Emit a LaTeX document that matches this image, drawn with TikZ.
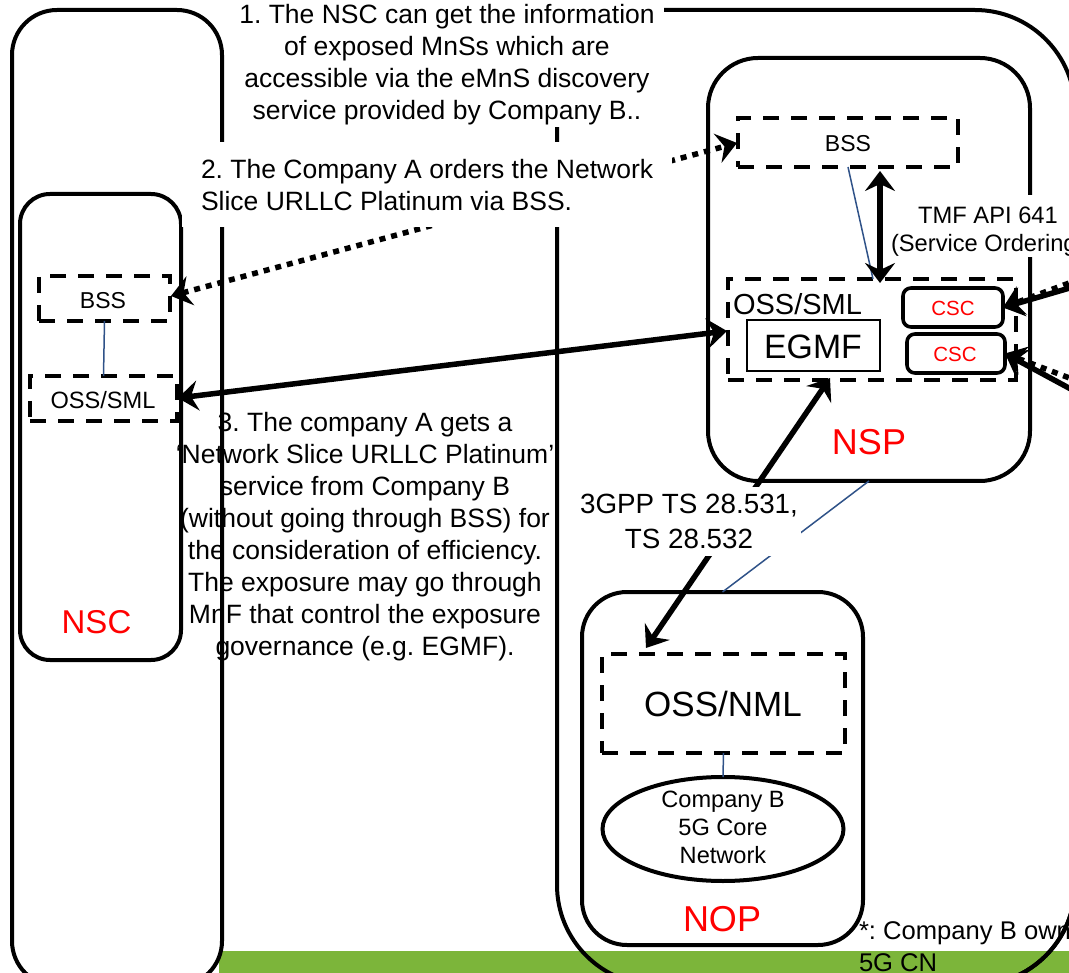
\documentclass[tikz,border=0pt]{standalone}
\usepackage{fontspec}
\setmainfont{Liberation Sans}
\usetikzlibrary{arrows.meta,shapes.geometric}
\definecolor{linkblue}{HTML}{2F5288}
\definecolor{bargreen}{HTML}{7CB53A}
\newcommand{\fs}[2]{\fontsize{#1}{#2}\selectfont}
\frenchspacing
\tikzset{
  x=1pt,y=-1pt,
  every node/.style={inner sep=0pt,outer sep=0pt},
  outerbox/.style={draw=black,line width=4pt,rounded corners=#1,fill=none},
  dashbox/.style={draw=black,line width=3.4pt,dash pattern=on 16pt off 12pt},
  cscbox/.style={draw=black,line width=3.6pt,rounded corners=8pt},
  thinlink/.style={draw=linkblue,line width=1.5pt},
  headtip/.style={},
  boldarrow/.style={draw=black,line width=5.5pt,{Stealth[length=20pt,width=30pt,inset=7pt]}-{Stealth[length=20pt,width=30pt,inset=7pt]}},
  oneway/.style={draw=black,line width=5.5pt,-{Stealth[length=20pt,width=30pt,inset=7pt]}},
  dotarrow/.style={draw=black,line width=5.5pt,dash pattern=on 6pt off 6pt,{Stealth[length=20pt,width=30pt,inset=7pt]}-{Stealth[length=20pt,width=30pt,inset=7pt]}},
  dotoneway/.style={draw=black,line width=5.5pt,dash pattern=on 6pt off 6pt,-{Stealth[length=20pt,width=30pt,inset=7pt]}},
  whitemask/.style={fill=white,draw=none},
  boxsize/.style n args={4}{minimum width=(#3-#1)*1pt,minimum height=(#4-#2)*1pt,anchor=north west,at={(#1,#2)}},
  redlabel/.style={text=red,font=\fs{36}{40}},
  caption/.style={font=\fs{26.5}{32},align=center}
}
\begin{document}
\begin{tikzpicture}
\useasboundingbox (0,0) rectangle (1069,973);
\fill[bargreen] (219,951) rectangle (1069,973);

% large containers
\node[outerbox=45pt,boxsize={12}{10}{222}{986}] (left) {};
\node[outerbox=100pt,boxsize={557}{10}{1075}{985}] (right) {};
\node[outerbox=30pt,boxsize={20}{194}{181}{660}] (nsc) {};
\node[outerbox=50pt,boxsize={708}{58}{1030}{481}] (nsp) {};
\node[outerbox=45pt,boxsize={582}{592}{863}{945}] (nop) {};

% inner boxes
\node[dashbox,boxsize={39}{276}{170}{321}] (bssa) {};
\node[dashbox,boxsize={30}{376}{177}{421}] (ossa) {};
\node[dashbox,boxsize={738}{118}{958}{167}] (bssb) {};
\node[dashbox,boxsize={728}{279}{1016}{380}] (ossb) {};
\node[dashbox,boxsize={602}{654}{845}{753}] (ossn) {};
\node[draw=black,line width=2pt,boxsize={747}{320}{880}{371}] (egmf) {};
\node[cscbox,boxsize={903}{288}{1003}{327}] (csca) {};
\node[cscbox,boxsize={907}{334}{1005}{373}] (cscb) {};
\node[draw=black,line width=4pt,ellipse,minimum width=241pt,minimum height=104pt,at={(723,829)}] (core) {};

% off-page ends and anchors of connectors
\coordinate (cscaout) at (1080,285);
\coordinate (cscaoutd) at (1080,279);
\coordinate (cscbout) at (1080,394);
\coordinate (cscboutd) at (1080,382);
\coordinate (bssatip) at (171,296);
\coordinate (bssbtip) at (737,143);
\coordinate (ossatip) at (178,398);
\coordinate (ossbtip) at (727,331);
\coordinate (egmftip) at (830,378);
\coordinate (ossntip) at (646,648);
\coordinate (bssbup) at (880,171);
\coordinate (ossbup) at (880,283);

% thin links
\draw[thinlink] (bssa.south) -- (ossa.north);
\draw[thinlink] (bssb.south) -- (873,279);
\draw[thinlink] (nsp.south) -- (nop.north);
\draw[thinlink] (ossn.south) -- (core.north);

% arrows
\draw[dotarrow] (bssatip) -- (bssbtip);
\draw[boldarrow] (ossatip) -- (ossbtip);
\draw[boldarrow] (bssbup) -- (ossbup);
\draw[boldarrow] (egmftip) -- (ossntip);
\draw[dotoneway] (cscaoutd) -- (csca.east);
\draw[oneway] (cscaout) -- (csca.east);
\draw[dotoneway] (cscboutd) -- (cscb.east);
\draw[oneway] (cscbout) -- (cscb.east);

% white-backed labels
\fill[whitemask] (228,0) rectangle (664,127);
\fill[whitemask] (182,142) rectangle (672,227);
\fill[whitemask] (890,195) rectangle (1069,257);
\fill[whitemask] (570,487) rectangle (801,556);

\node[caption,at={(447,65)}] (lab1) {1. The NSC can get the information\\of exposed MnSs which are\\accessible via the eMnS discovery\\service provided by Company B..};
\node[caption,align=left,anchor=west,at={(201,185)}] (lab2) {2. The Company A orders the Network\\Slice URLLC Platinum via BSS.};
\node[caption,at={(365,537)}] (lab3) {3. The company A gets a\\‘Network Slice URLLC Platinum’\\service from Company B\\(without going through BSS) for\\the consideration of efficiency.\\The exposure may go through\\MnF that control the exposure\\governance (e.g. EGMF).};
\node[font=\fs{23.7}{30},anchor=center,at={(988,215)}] (lab4a) {TMF API 641};
\node[font=\fs{23.7}{30},anchor=west,at={(891,245)}] (lab4b) {(Service Ordering)};
\node[font=\fs{27.8}{35},align=center,at={(689,521)}] (lab5) {3GPP TS 28.531,\\TS 28.532};
\node[font=\fs{25.6}{32},align=left,anchor=north west,at={(859,922)}] (lab6) {*: Company B owns\\5G CN};
% the big container's curve passes over the note
\begin{scope}
\clip (1000,890) rectangle (1069,973);
\node[outerbox=100pt,boxsize={557}{10}{1075}{985}] (rightagain) {};
\end{scope}

% box texts
\node[font=\fs{23}{28},at={(103,301)}] (tbssa) {BSS};
\node[font=\fs{23.6}{28},at={(103,400)}] (tossa) {OSS/SML};
\node[font=\fs{23}{28},at={(848,144)}] (tbssb) {BSS};
\node[font=\fs{29}{34},anchor=west,at={(733,304)}] (tossb) {OSS/SML};
\node[font=\fs{33.8}{38},at={(813,347)}] (tegmf) {EGMF};
\node[text=red,font=\fs{20.5}{24},at={(953,308)}] (tcsca) {CSC};
\node[text=red,font=\fs{20.5}{24},at={(955,354)}] (tcscb) {CSC};
\node[font=\fs{35}{40},at={(723,704)}] (tossn) {OSS/NML};
\node[font=\fs{23.6}{28},align=center,at={(723,827)}] (tcore) {Company B\\5G Core\\Network};
\node[text=red,font=\fs{33}{38},at={(96.5,622)}] (tnsc) {NSC};
\node[redlabel,at={(869,442)}] (tnsp) {NSP};
\node[redlabel,at={(722,919)}] (tnop) {NOP};
\end{tikzpicture}
\end{document}
